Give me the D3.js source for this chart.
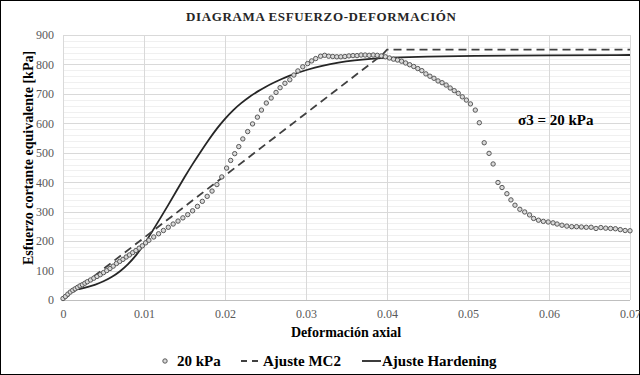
<!DOCTYPE html>
<html>
<head>
<meta charset="utf-8">
<script src="https://cdn.jsdelivr.net/npm/d3@7"></script>
<style>
  body { margin: 0; background: #fff; }
  svg { display: block; }
  svg text { font-family: "Liberation Serif", "Times New Roman", Tinos, "DejaVu Serif", serif; }
</style>
</head>
<body>
<script>
// Data
// 20 kPa test points (strain, stress kPa)
var testStrain = [
  0.0000, 0.0003, 0.0006, 0.0009, 0.0012, 0.0015, 0.0018, 0.0021, 0.0024, 0.0027,
  0.0030, 0.0034, 0.0038, 0.0042, 0.0046, 0.0050, 0.0054, 0.0058, 0.0062, 0.0066,
  0.0070, 0.0074, 0.0078, 0.0082, 0.0086, 0.0090, 0.0094, 0.0098, 0.0102,
  0.0106, 0.0112, 0.0118, 0.0124, 0.0130, 0.0136, 0.0142, 0.0148, 0.0154, 0.0160,
  0.0166, 0.0172, 0.0178, 0.0184, 0.0190, 0.0196, 0.0202,
  0.0207, 0.0212, 0.0217, 0.0222, 0.0228, 0.0234, 0.0240, 0.0245, 0.0251, 0.0257,
  0.0263, 0.0268, 0.0274, 0.0280, 0.0285, 0.0290,
  0.0296, 0.0302, 0.0307, 0.0312, 0.0318, 0.0323, 0.0328, 0.0333, 0.0338, 0.0343,
  0.0348, 0.0353, 0.0358, 0.0363, 0.0368, 0.0373, 0.0378, 0.0383, 0.0388, 0.0393,
  0.0398, 0.0403, 0.0408, 0.0413, 0.0418, 0.0423, 0.0428, 0.0433, 0.0438, 0.0443,
  0.0448, 0.0453, 0.0458, 0.0463, 0.0468, 0.0473, 0.0478, 0.0483, 0.0488, 0.0493,
  0.0498, 0.0503, 0.0509, 0.0514, 0.0520, 0.0526, 0.0531, 0.0537, 0.0542, 0.0548,
  0.0553, 0.0558, 0.0564, 0.0570, 0.0576, 0.0581, 0.0587, 0.0593, 0.0599, 0.0605,
  0.0610, 0.0616, 0.0622, 0.0628, 0.0634, 0.0640, 0.0646, 0.0652, 0.0658, 0.0664,
  0.0670, 0.0676, 0.0682, 0.0688, 0.0694, 0.0700
];
var testStress = [
  5, 12, 20, 27, 33, 38, 43, 48, 52, 57,
  62, 68, 74, 80, 86, 93, 100, 107, 115, 124,
  131, 138, 146, 153, 161, 168, 176, 184, 194,
  203, 214, 225, 236, 247, 258, 268, 279, 290, 303,
  318, 335, 352, 370, 392, 418, 448,
  474, 497, 521, 547, 572, 598, 621, 645, 669, 686,
  705, 721, 736, 748, 764, 778,
  792, 803, 812, 820, 828, 831, 828, 827, 826, 826,
  827, 829, 830, 830, 832, 832, 831, 832, 831, 829,
  826, 822, 818, 815, 811, 805, 799, 793, 786, 779,
  768, 760, 753, 744, 738, 730, 720, 711, 702, 690,
  679, 666, 645, 602, 534, 498, 462, 399, 382, 361,
  340, 322, 308, 299, 289, 277, 271, 267, 265, 262,
  258, 254, 251, 249, 249, 248, 247, 247, 243, 246,
  244, 243, 242, 239, 236, 235
];

// Ajuste MC2 (dashed)
var mc2Strain = [0, 0.0395, 0.0400, 0.0700];
var mc2Stress = [0, 835, 850, 850];

// Ajuste Hardening (solid)
var hardStrain = [
  0, 0.0005, 0.0010, 0.0015, 0.0020, 0.0025, 0.0030, 0.0040, 0.0050, 0.0060,
  0.0070, 0.0080, 0.0090, 0.0100, 0.0110, 0.0120, 0.0130, 0.0140, 0.0150, 0.0160,
  0.0170, 0.0180, 0.0190, 0.0200, 0.0210, 0.0220, 0.0230, 0.0240, 0.0250, 0.0260,
  0.0270, 0.0280, 0.0290, 0.0300, 0.0320, 0.0340, 0.0360, 0.0380, 0.0400, 0.0450,
  0.0500, 0.0600, 0.0700
];
var hardStress = [
  0, 18, 30, 35, 37, 40, 44, 52, 63, 77,
  96, 120, 150, 188, 232, 277, 323, 370, 417, 462,
  504, 545, 583, 616, 645, 669, 690, 708, 724, 738,
  751, 762, 772, 781, 796, 807, 814, 819, 823, 827,
  829, 831, 832
];

// Axis ticks
var xTicks = [0, 0.01, 0.02, 0.03, 0.04, 0.05, 0.06, 0.07];
var xTickLabels = ["0", "0.01", "0.02", "0.03", "0.04", "0.05", "0.06", "0.07"];
var yTicks = [0, 100, 200, 300, 400, 500, 600, 700, 800, 900];

// SVG area
var svgWidth = 640;
var svgHeight = 375;

var chartMargin = {
  top: 35,
  right: 10,
  bottom: 75,
  left: 63
};

var chartWidth = svgWidth - chartMargin.left - chartMargin.right;
var chartHeight = svgHeight - chartMargin.top - chartMargin.bottom;

var svg = d3.select("body")
  .append("svg")
  .attr("width", svgWidth)
  .attr("height", svgHeight);

// outer frame
svg.append("rect")
  .attr("x", 0.5)
  .attr("y", 0.5)
  .attr("width", svgWidth - 1)
  .attr("height", svgHeight - 1)
  .attr("fill", "#fff")
  .attr("stroke", "#000")
  .attr("stroke-width", 1);

var chartGroup = svg.append("g")
  .attr("transform", `translate(${chartMargin.left}, ${chartMargin.top})`);

// scales
var xLinearScale = d3.scaleLinear()
  .domain([0, 0.07])
  .range([0, chartWidth]);

var yLinearScale = d3.scaleLinear()
  .domain([0, 900])
  .range([chartHeight, 0]);

// minor horizontal gridlines every 20
var minorTicks = d3.range(0, 901, 20).filter(d => d % 100 !== 0);
chartGroup.append("g")
  .selectAll("line")
  .data(minorTicks)
  .enter().append("line")
  .attr("x1", 0)
  .attr("x2", chartWidth)
  .attr("y1", d => Math.round(yLinearScale(d)) + 0.5)
  .attr("y2", d => Math.round(yLinearScale(d)) + 0.5)
  .attr("stroke", "#f0f0f0")
  .attr("stroke-width", 1);

// major gridlines
chartGroup.append("g")
  .selectAll("line")
  .data(yTicks)
  .enter().append("line")
  .attr("x1", 0)
  .attr("x2", chartWidth)
  .attr("y1", d => Math.round(yLinearScale(d)) + 0.5)
  .attr("y2", d => Math.round(yLinearScale(d)) + 0.5)
  .attr("stroke", d => d === 0 ? "#bfbfbf" : "#d9d9d9")
  .attr("stroke-width", 1);

chartGroup.append("g")
  .selectAll("line")
  .data(xTicks)
  .enter().append("line")
  .attr("x1", d => Math.round(xLinearScale(d)) + 0.5)
  .attr("x2", d => Math.round(xLinearScale(d)) + 0.5)
  .attr("y1", 0)
  .attr("y2", chartHeight)
  .attr("stroke", "#d9d9d9")
  .attr("stroke-width", 1);

// axes (labels only)
var bottomAxis = d3.axisBottom(xLinearScale)
  .tickValues(xTicks)
  .tickFormat((d, i) => xTickLabels[i])
  .tickSize(0)
  .tickPadding(9);
var leftAxis = d3.axisLeft(yLinearScale)
  .tickValues(yTicks)
  .tickFormat(d3.format("d"))
  .tickSize(0)
  .tickPadding(9);

var xAxisG = chartGroup.append("g")
  .attr("transform", `translate(0, ${chartHeight})`)
  .call(bottomAxis);
var yAxisG = chartGroup.append("g")
  .call(leftAxis);

[xAxisG, yAxisG].forEach(function(g) {
  g.attr("font-family", null);
  g.select(".domain").remove();
  g.selectAll("text")
    .attr("fill", "#595959")
    .style("font-size", "12px");
});

// lines
var mc2Data = mc2Strain.map((x, i) => ({ x: x, y: mc2Stress[i] }));
var hardData = hardStrain.map((x, i) => ({ x: x, y: hardStress[i] }));
var testData = testStrain.map((x, i) => ({ x: x, y: testStress[i] }));

var hardLine = d3.line()
  .x(d => xLinearScale(d.x))
  .y(d => yLinearScale(d.y))
  .curve(d3.curveBasis);

var mc2Line = d3.line()
  .x(d => xLinearScale(d.x))
  .y(d => yLinearScale(d.y));

chartGroup.append("path")
  .datum(hardData)
  .attr("d", hardLine)
  .attr("fill", "none")
  .attr("stroke", "#262626")
  .attr("stroke-width", 1.8);

chartGroup.append("path")
  .datum(mc2Data)
  .attr("d", mc2Line)
  .attr("fill", "none")
  .attr("stroke", "#404040")
  .attr("stroke-width", 1.8)
  .attr("stroke-dasharray", "8,5");

// the scatter dots
chartGroup.selectAll(".dot")
  .data(testData)
  .enter().append("circle")
  .attr("class", "dot")
  .attr("cx", d => xLinearScale(d.x))
  .attr("cy", d => yLinearScale(d.y))
  .attr("r", 2.2)
  .attr("fill", "#d9d9d9")
  .attr("stroke", "#595959")
  .attr("stroke-width", 1);

// title
svg.append("text")
  .attr("x", 321)
  .attr("y", 21)
  .attr("text-anchor", "middle")
  .attr("textLength", 270)
  .attr("lengthAdjust", "spacing")
  .style("font-weight", "bold")
  .style("font-size", "13px")
  .attr("fill", "#262626")
  .text("DIAGRAMA ESFUERZO-DEFORMACIÓN");

// axis titles
svg.append("text")
  .attr("transform", "translate(33, 158) rotate(-90)")
  .attr("text-anchor", "middle")
  .style("font-weight", "bold")
  .style("font-size", "14px")
  .attr("fill", "#000")
  .text("Esfuerzo cortante equivalente [kPa]");

svg.append("text")
  .attr("x", 346)
  .attr("y", 337)
  .attr("text-anchor", "middle")
  .style("font-weight", "bold")
  .style("font-size", "14px")
  .attr("fill", "#000")
  .text("Deformación axial");

// annotation
svg.append("text")
  .attr("x", 518)
  .attr("y", 125)
  .style("font-weight", "bold")
  .style("font-size", "15px")
  .attr("fill", "#000")
  .text("σ3 = 20 kPa");

// legend
var legendY = 361;
var legend = svg.append("g");

legend.append("circle")
  .attr("cx", 165)
  .attr("cy", legendY)
  .attr("r", 2.2)
  .attr("fill", "#d9d9d9")
  .attr("stroke", "#595959")
  .attr("stroke-width", 1);
legend.append("text")
  .attr("x", 177)
  .attr("y", legendY + 5)
  .style("font-weight", "bold")
  .style("font-size", "15px")
  .attr("fill", "#000")
  .text("20 kPa");

legend.append("line")
  .attr("x1", 241)
  .attr("x2", 262)
  .attr("y1", legendY)
  .attr("y2", legendY)
  .attr("stroke", "#404040")
  .attr("stroke-width", 1.8)
  .attr("stroke-dasharray", "6,5");
legend.append("text")
  .attr("x", 263)
  .attr("y", legendY + 5)
  .style("font-weight", "bold")
  .style("font-size", "15px")
  .attr("fill", "#000")
  .text("Ajuste MC2");

legend.append("line")
  .attr("x1", 362)
  .attr("x2", 381)
  .attr("y1", legendY)
  .attr("y2", legendY)
  .attr("stroke", "#262626")
  .attr("stroke-width", 1.8);
legend.append("text")
  .attr("x", 382)
  .attr("y", legendY + 5)
  .style("font-weight", "bold")
  .style("font-size", "15px")
  .attr("fill", "#000")
  .text("Ajuste Hardening");
</script>
</body>
</html>
